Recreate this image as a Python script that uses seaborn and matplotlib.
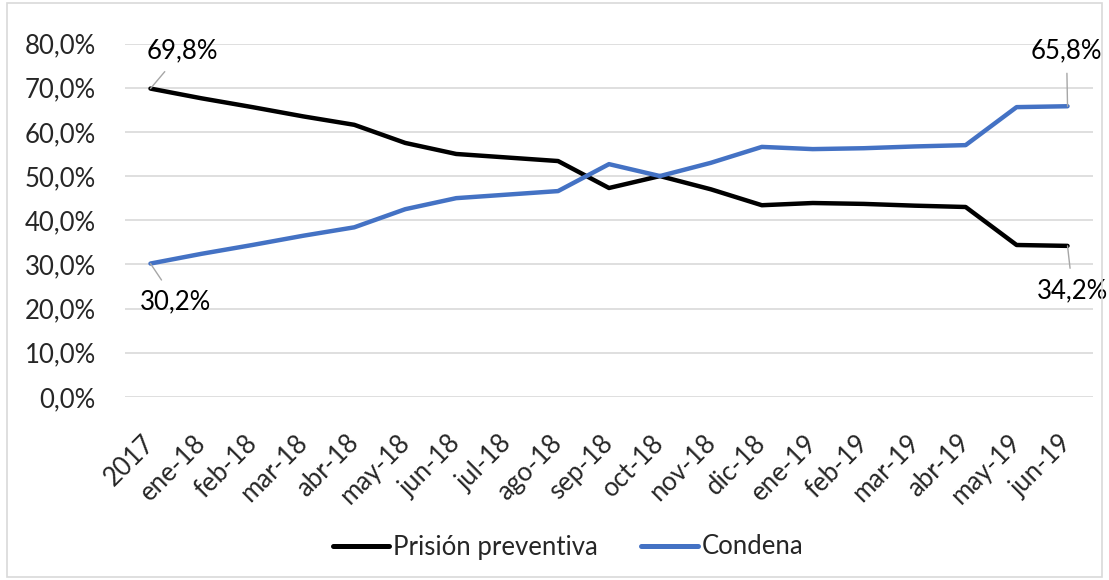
import matplotlib
matplotlib.use("Agg")
import matplotlib.pyplot as plt
import matplotlib.transforms as mtransforms
import seaborn as sns
import pandas as pd
from matplotlib.patches import Rectangle

categories = ["2017", "ene-18", "feb-18", "mar-18", "abr-18", "may-18", "jun-18",
              "jul-18", "ago-18", "sep-18", "oct-18", "nov-18", "dic-18", "ene-19",
              "feb-19", "mar-19", "abr-19", "may-19", "jun-19"]
prision = [69.8, 67.6, 65.6, 63.5, 61.6, 57.5, 55.0, 54.2, 53.4, 47.3, 50.0, 47.0,
           43.4, 43.9, 43.7, 43.3, 43.0, 34.4, 34.2]
condena = [30.2, 32.4, 34.4, 36.5, 38.4, 42.5, 45.0, 45.8, 46.6, 52.7, 50.0, 53.0,
           56.6, 56.1, 56.3, 56.7, 57.0, 65.6, 65.8]
yticks = [0, 10, 20, 30, 40, 50, 60, 70, 80]
series_names = ["Prisión preventiva", "Condena"]
colors = ["#000000", "#4472C4"]

sns.set_theme(style="white")
plt.rcParams['font.family'] = ['Lato', 'DejaVu Sans']
FS = 18.5

df = pd.DataFrame({
    "x": list(range(len(categories))) * 2,
    "val": prision + condena,
    "serie": [series_names[0]] * len(categories) + [series_names[1]] * len(categories),
})

fig = plt.figure(figsize=(11.09, 5.80), dpi=100)
W, H = 1109, 580
ax = fig.add_axes([125 / W, 1 - 397 / H, (1093 - 125) / W, (397 - 43.5) / H])

sns.lineplot(data=df, x="x", y="val", hue="serie", palette=colors, linewidth=3.2,
             ax=ax, legend=False, sort=False)
for l in ax.lines:
    l.set_solid_capstyle("round")
    l.set_solid_joinstyle("round")

ax.set_xlim(-0.5, len(categories) - 0.5)
ax.set_ylim(0, 80)
ax.set_yticks(yticks)
ax.set_yticklabels([f"{v:.1f}%".replace(".", ",") for v in yticks], fontsize=FS)
ax.set_xticks(range(len(categories)))
ax.set_xticklabels(categories, rotation=45, ha="right", rotation_mode="anchor", fontsize=FS)
ax.tick_params(axis="x", pad=24, length=0)
ax.tick_params(axis="y", pad=21, length=0)
offset = mtransforms.ScaledTranslation(-6 / 72, 0, fig.dpi_scale_trans)
for lbl in ax.get_xticklabels():
    lbl.set_transform(lbl.get_transform() + offset)
ax.set_xlabel("")
ax.set_ylabel("")
ax.grid(axis="y", color="#D9D9D9", linewidth=1.2)
ax.set_axisbelow(True)
for s in ax.spines.values():
    s.set_visible(False)

def fmt(v):
    return f"{v:.1f}%".replace(".", ",")

n = len(categories) - 1
labels = [
    (0, prision[0], 0.63, 78.4),
    (0, condena[0], 0.5, 21.6),
    (n, condena[n], n - 0.02, 78.4),
    (n, prision[n], n + 0.1, 24.0),
]
for xi, yi, tx, ty in labels:
    ax.annotate(fmt(yi), xy=(xi, yi), xytext=(tx, ty), textcoords="data",
                ha="center", va="center", fontsize=FS, color="#000000",
                arrowprops=dict(arrowstyle="-", color="#A6A6A6", lw=1.0,
                                shrinkA=5, shrinkB=0))

handles = [plt.Line2D([0], [0], color=c, lw=3.6, solid_capstyle="round") for c in colors]
fig.legend(handles, series_names, loc="center", bbox_to_anchor=(568 / W, 1 - 547 / H),
           ncol=2, frameon=False, fontsize=FS, handlelength=2.2, handletextpad=0.15,
           columnspacing=1.7)

fig.patches.append(Rectangle((7 / W, 3 / H), (W - 14) / W, (H - 6) / H,
                             transform=fig.transFigure, fill=False,
                             edgecolor="#D9D9D9", linewidth=1.2))

fig.savefig("out.png", dpi=100)
